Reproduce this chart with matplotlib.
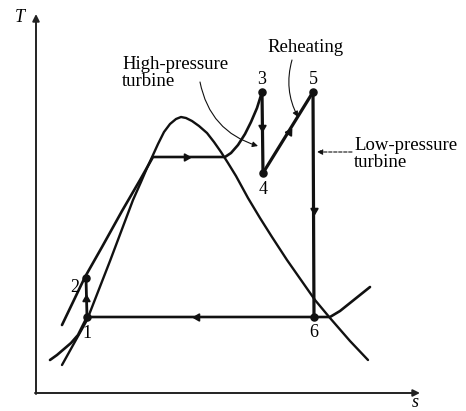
import matplotlib.pyplot as plt

plt.rcParams['font.family'] = ['Liberation Serif', 'DejaVu Serif']

H = 411  # T = H - pixel row, s = pixel column (schematic units)

# Saturation dome (s, T)
dome_s = [62, 87, 110, 133, 141, 147, 153, 158, 164, 170, 176, 181, 186, 192, 199, 207,
          214, 221, 228, 236, 248, 260, 272, 287, 301, 315, 330, 350, 368]
dome_T = [46, 91, 150, 211, 229, 243, 256, 267, 279, 287, 292, 294, 293, 290, 285, 278,
          269, 259, 248, 235, 213, 193, 174, 151, 131, 111, 93, 70, 51]

# High-pressure line: compressed liquid -> boiling -> superheat to state 3
hp_s = [62, 85, 102, 122, 140, 153, 225, 231, 238, 245, 251, 257, 262]
hp_T = [86, 134, 164, 200, 231, 254, 254, 258, 266, 277, 289, 303, 319]

# Condenser-pressure line (subcooled part, horizontal, superheated part)
lp_s = [50, 57, 64, 71, 78, 87, 330, 340, 350, 360, 370]
lp_T = [51, 56, 62, 68, 76, 94, 94, 100, 108, 116, 124]

# Cycle states
state_lbl = ['1', '2', '3', '4', '5', '6']
state_s = [87, 86, 262, 263, 313, 314]
state_T = [94, 133, 319, 238, 319, 94]

# Flow-direction arrows: position and heading (degrees, 0 = up, ccw positive)
arr_s = [86, 186, 262, 289, 314, 197]
arr_T = [112, 254, 284, 279, 201, 94]
arr_rot = [0, -90, 180, -31.7, 180, 90]

fig = plt.figure(figsize=(4.66, 4.11), dpi=100)
ax = fig.add_axes([0, 0, 1, 1])
ax.set_xlim(0, 466)
ax.set_ylim(0, H)
ax.axis('off')

# Axes with arrows
ax.annotate('', xy=(36, H - 14), xytext=(36, H - 394),
            arrowprops=dict(arrowstyle='-|>', lw=1.4, color='#222', mutation_scale=10, shrinkA=0, shrinkB=0))
ax.annotate('', xy=(420, H - 393), xytext=(35, H - 393),
            arrowprops=dict(arrowstyle='-|>', lw=1.4, color='#222', mutation_scale=10, shrinkA=0, shrinkB=0))
ax.text(20, H - 18, 'T', fontsize=13, style='italic', ha='center', va='center')
ax.text(415, H - 402, 's', fontsize=13, style='italic', ha='center', va='center')

k = '#111'
ax.plot(dome_s, dome_T, color=k, lw=1.7, solid_capstyle='round', solid_joinstyle='round')
ax.plot(hp_s, hp_T, color=k, lw=1.9, solid_capstyle='round', solid_joinstyle='round')
ax.plot(lp_s, lp_T, color=k, lw=1.9, solid_capstyle='round', solid_joinstyle='round')

# Cycle segments: 2-1 pump, 3-4 HP turbine, 4-5 reheat, 5-6 LP turbine
ax.plot([state_s[0], state_s[1]], [state_T[0], state_T[1]], color=k, lw=2)
ax.plot([state_s[2], state_s[3]], [state_T[2], state_T[3]], color=k, lw=2.3)
ax.plot([state_s[3], state_s[4]], [state_T[3], state_T[4]], color=k, lw=2.3)
ax.plot([state_s[4], state_s[5]], [state_T[4], state_T[5]], color=k, lw=2.3)
ax.scatter(state_s, state_T, s=26, color=k, zorder=5)

for s_, t_, r in zip(arr_s, arr_T, arr_rot):
    ax.plot(s_, t_, marker=(3, 0, r), ms=6, color=k, zorder=6)

# State labels
lbl_off = {'1': (0, -16), '2': (-11, -9), '3': (0, 13), '4': (0, -16), '5': (0, 13), '6': (0, -15)}
for n, s_, t_ in zip(state_lbl, state_s, state_T):
    ox, oy = lbl_off[n]
    ax.text(s_ + ox, t_ + oy, n, fontsize=13, ha='center', va='center')

# Annotations
ax.text(122, H - 73, 'High-pressure\nturbine', fontsize=13.5, ha='left', va='center', linespacing=0.95)
ax.annotate('', xy=(258, H - 146), xytext=(200, H - 82),
            arrowprops=dict(arrowstyle='-|>', lw=0.8, color=k, mutation_scale=8,
                            connectionstyle='arc3,rad=0.3', shrinkA=0, shrinkB=0))
ax.text(306, H - 47, 'Reheating', fontsize=13.5, ha='center', va='center')
ax.annotate('', xy=(298, H - 117), xytext=(292, H - 60),
            arrowprops=dict(arrowstyle='-|>', lw=0.8, color=k, mutation_scale=8,
                            connectionstyle='arc3,rad=0.2', shrinkA=0, shrinkB=0))
ax.text(354, H - 154, 'Low-pressure\nturbine', fontsize=13.5, ha='left', va='center', linespacing=0.95)
ax.annotate('', xy=(317, H - 152), xytext=(352, H - 152),
            arrowprops=dict(arrowstyle='-|>', lw=0.8, color=k, mutation_scale=8,
                            linestyle=(0, (3, 1.5)), shrinkA=0, shrinkB=0))

fig.savefig('out.png', dpi=100)
